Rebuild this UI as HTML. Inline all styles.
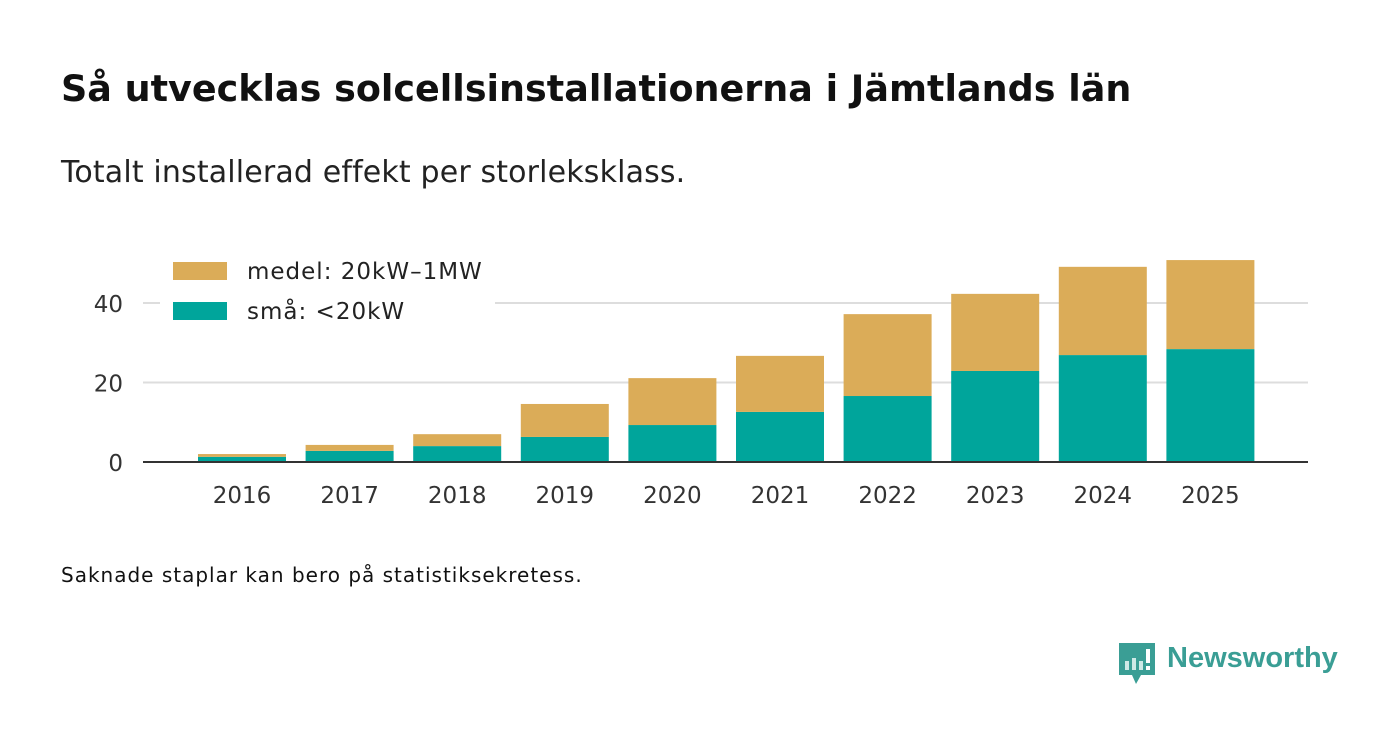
<!DOCTYPE html>
<html><head><meta charset="utf-8"><style>
body{margin:0;width:1400px;height:745px;background:#fff;font-family:"DejaVu Sans","Liberation Sans",sans-serif;overflow:hidden;position:relative}
.t{position:absolute;left:61px;top:67px;font-size:36.5px;font-weight:bold;color:#111;white-space:nowrap}
.s{position:absolute;left:61px;top:155px;font-size:30px;color:#222;white-space:nowrap;letter-spacing:0.15px}
.n{position:absolute;left:61px;top:563px;font-size:20px;color:#111;white-space:nowrap;letter-spacing:1px}
.logo{position:absolute;left:1167px;top:642px;font-family:"Liberation Sans",sans-serif;font-size:29px;font-weight:bold;color:#3a9e95}
</style></head><body>
<div class="t">Så utvecklas solcellsinstallationerna i Jämtlands län</div>
<div class="s">Totalt installerad effekt per storleksklass.</div>
<div class="n">Saknade staplar kan bero på statistiksekretess.</div>
<svg style="position:absolute;left:1119px;top:643px" width="36" height="42">
<path d="M0 0H36V32H22L17 41L13 32H0Z" fill="#3a9e95"/>
<rect x="6" y="18" width="4" height="9" fill="#cde9e6"/><rect x="13" y="15" width="4" height="12" fill="#cde9e6"/><rect x="20" y="18" width="4" height="9" fill="#cde9e6"/><rect x="27" y="6" width="4" height="14" fill="#fff"/><rect x="27" y="23" width="4" height="4" fill="#fff"/>
</svg>
<div class="logo">Newsworthy</div>
<svg id="c" width="1400" height="745" style="position:absolute;left:0;top:0"></svg>
<script>
const years=["2016","2017","2018","2019","2020","2021","2022","2023","2024","2025"];
const small=[1.3,2.8,4.0,6.3,9.3,12.6,16.6,22.9,26.9,28.4];
const medium=[0.7,1.5,3.0,8.3,11.8,14.1,20.6,19.4,22.2,22.4];
const yTicks=[0,20,40];
const svg=document.getElementById('c');const NS='http://www.w3.org/2000/svg';
function y(v){return 462-v*3.975;}
function x(i){return 242+i*107.6;}
const bw=88;
function el(t,a,p){const e=document.createElementNS(NS,t);for(const k in a)e.setAttribute(k,a[k]);(p||svg).appendChild(e);return e;}
yTicks.forEach(v=>{
 if(v>0){const g=el('line',{x1:143,x2:1308,y1:y(v),y2:y(v),stroke:'#ddd','stroke-width':2});
 
 }
 const t=el('text',{x:123,y:y(v)+9,'text-anchor':'end','font-size':23,fill:'#333'});t.textContent=v;
 
 
});
years.forEach((yr,i)=>{
 const s=el('rect',{x:x(i)-bw/2,y:y(small[i]),width:bw,height:small[i]*3.975,fill:'#00a59b'});
 
 
 const tot=small[i]+medium[i];
 const m=el('rect',{x:x(i)-bw/2,y:y(tot),width:bw,height:medium[i]*3.975,fill:'#dbac58'});
 
 
 const t=el('text',{x:x(i),y:503,'text-anchor':'middle','font-size':23,fill:'#333'});t.textContent=yr;
 
 
});
const ax=el('line',{x1:143,x2:1308,y1:462,y2:462,stroke:'#333','stroke-width':2});


const lg=el('rect',{x:160,y:252,width:335,height:80,fill:'#fff'});


[["medel: 20kW–1MW",'#dbac58',262],["små: <20kW",'#00a59b',302]].forEach(([l,c,yy])=>{
 const r=el('rect',{x:173,y:yy,width:54,height:18,fill:c});
 
 
 const t=el('text',{x:247,y:yy+17,'font-size':23,'letter-spacing':1,fill:'#222'});t.textContent=l;
 
 
});
</script>
</body></html>
